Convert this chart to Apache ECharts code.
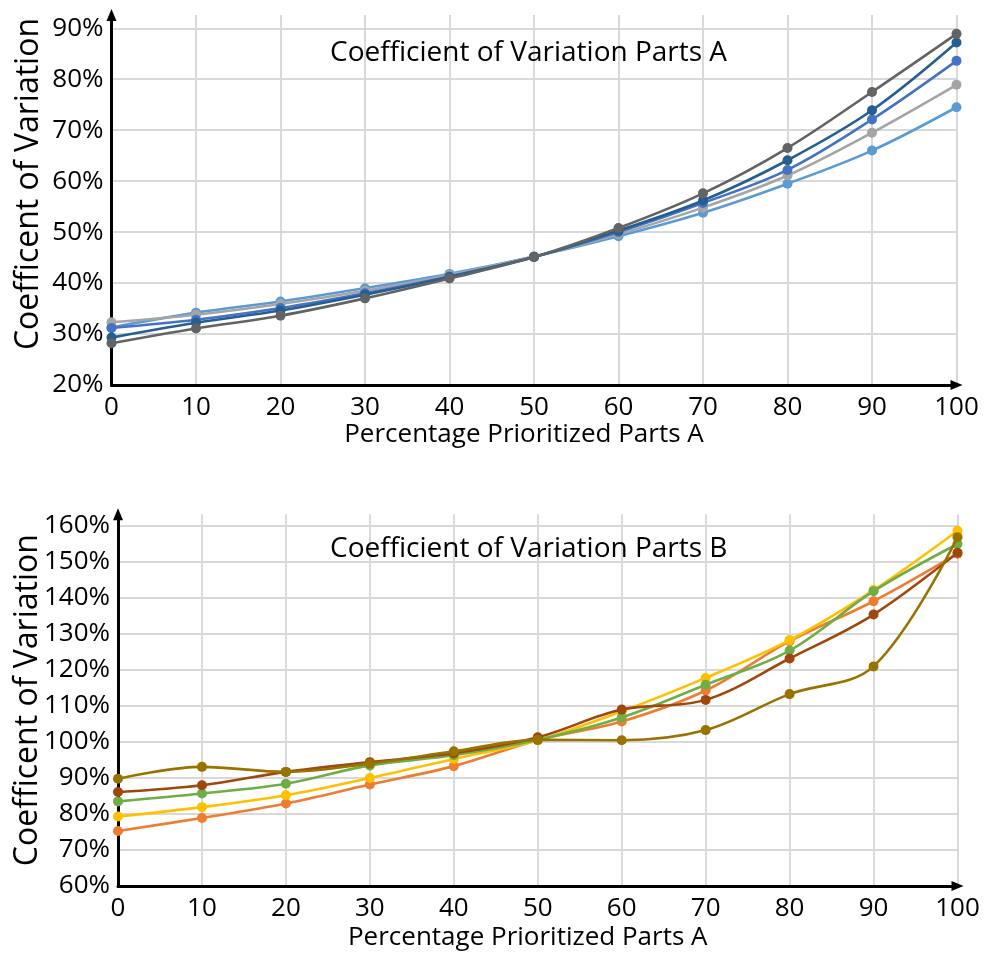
<!DOCTYPE html>
<html>
<head>
<meta charset="utf-8">
<script src="https://cdn.jsdelivr.net/npm/echarts@6/dist/echarts.min.js"></script>
<style>
  html, body { margin: 0; padding: 0; background: #ffffff; }
  #chart { width: 994px; height: 956px; }
</style>
</head>
<body>
<div id="chart"></div>
<script>
// Share of prioritized parts (x) for both panels
const prioritizedPct = [0, 10, 20, 30, 40, 50, 60, 70, 80, 90, 100];

// Parts A: coefficient of variation (%) for five scenarios
const partsA1 = [31.3, 34.2, 36.4, 39.0, 41.8, 45.2, 49.2, 53.8, 59.5, 66.0, 74.5];
const partsA2 = [32.3, 33.8, 35.9, 38.5, 41.6, 45.2, 49.6, 54.8, 61.1, 69.5, 78.9];
const partsA3 = [31.2, 32.8, 35.1, 38.0, 41.3, 45.1, 50.0, 55.7, 62.2, 72.1, 83.6];
const partsA4 = [29.3, 32.2, 34.6, 37.7, 41.2, 45.1, 50.3, 56.2, 64.1, 73.9, 87.2];
const partsA5 = [28.2, 31.1, 33.6, 37.0, 40.9, 45.1, 50.8, 57.6, 66.5, 77.5, 88.9];

// Parts B: coefficient of variation (%) for five scenarios
const partsB1 = [75.3, 78.9, 82.9, 88.2, 93.3, 100.5, 105.7, 114.3, 128.0, 139.1, 152.3];
const partsB2 = [79.3, 81.9, 85.2, 90.0, 95.3, 100.5, 108.5, 117.8, 128.3, 142.2, 158.7];
const partsB3 = [83.5, 85.7, 88.4, 93.5, 96.3, 100.6, 106.8, 115.9, 125.4, 141.9, 155.0];
const partsB4 = [86.1, 88.0, 91.7, 94.4, 96.9, 101.3, 109.0, 111.7, 123.2, 135.4, 152.6];
const partsB5 = [89.8, 93.1, 91.7, 94.0, 97.4, 100.6, 100.5, 103.3, 113.3, 121.0, 156.9];

// Axis ticks
const yTicksA = { min: 20, top: 90, step: 10 };
const yTicksB = { min: 60, top: 160, step: 10 };
const xTicks = { min: 0, max: 100, step: 10 };

const seriesA = [partsA1, partsA2, partsA3, partsA4, partsA5];
const seriesB = [partsB1, partsB2, partsB3, partsB4, partsB5];
const colorsA = ['#5B9BD5', '#A5A5A5', '#4472C4', '#255E91', '#636363'];
const colorsB = ['#ED7D31', '#FFC000', '#70AD47', '#9E480E', '#997300'];

const FONT = '"Open Sans", "Noto Sans", sans-serif';
const TEXT = '#000000';

function pairs(values) {
  return values.map((v, i) => [prioritizedPct[i], v]);
}

function makeX(gridIndex, gap, pad) {
  return {
    type: 'value', gridIndex: gridIndex,
    min: xTicks.min, max: xTicks.max, interval: xTicks.step,
    name: 'Percentage Prioritized Parts A', nameLocation: 'middle', nameGap: gap,
    nameTextStyle: { fontFamily: FONT, fontSize: 26, color: TEXT, padding: pad },
    axisLine: { show: true, symbol: ['none', 'triangle'], symbolSize: [10, 12],
      lineStyle: { color: '#000', width: 3 } },
    axisTick: { show: false },
    axisLabel: { fontFamily: FONT, fontSize: 26, color: TEXT, margin: 10 },
    splitLine: { show: true, lineStyle: { color: '#D9D9D9', width: 2 } }
  };
}

function makeY(gridIndex, ticks, extra, gap, pad) {
  return {
    type: 'value', gridIndex: gridIndex,
    min: ticks.min, max: ticks.top + extra, interval: ticks.step,
    name: 'Coefficent of Variation', nameLocation: 'middle', nameGap: gap,
    nameMoveOverlap: false,
    nameTextStyle: { fontFamily: FONT, fontSize: 32, color: TEXT, padding: pad },
    axisLine: { show: true, symbol: ['none', 'triangle'], symbolSize: [10, 12],
      lineStyle: { color: '#000', width: 3 } },
    axisTick: { show: false },
    axisLabel: { fontFamily: FONT, fontSize: 26, color: TEXT, margin: 8,
      formatter: '{value}%', showMaxLabel: false },
    splitLine: { show: true, showMaxLine: false, lineStyle: { color: '#D9D9D9', width: 2 } }
  };
}

function makeSeries(list, colors, axisIndex) {
  return list.map((vals, i) => ({
    type: 'line',
    xAxisIndex: axisIndex, yAxisIndex: axisIndex,
    data: pairs(vals),
    smooth: 0.35,
    symbol: 'circle', symbolSize: 10,
    lineStyle: { color: colors[i], width: 2.6 },
    itemStyle: { color: colors[i] },
    z: 2 + i
  }));
}

const chart = echarts.init(document.getElementById('chart'), null, { renderer: 'canvas' });
chart.setOption({
  animation: false,
  backgroundColor: '#ffffff',
  title: [
    { text: 'Coefficient of Variation Parts A', left: 330, top: 39, padding: 0,
      textStyle: { fontFamily: FONT, fontSize: 28, fontWeight: 'normal', color: TEXT } },
    { text: 'Coefficient of Variation Parts B', left: 330, top: 535, padding: 0,
      textStyle: { fontFamily: FONT, fontSize: 28, fontWeight: 'normal', color: TEXT } }
  ],
  grid: [
    { left: 111.5, top: 15, width: 845, height: 370, containLabel: false, outerBoundsMode: 'none' },
    { left: 118, top: 514.3, width: 839.5, height: 371.7, containLabel: false, outerBoundsMode: 'none' }
  ],
  xAxis: [makeX(0, 33, [0, 20, 0, 0]), makeX(1, 39, [0, 20, 0, 0])],
  yAxis: [
    makeY(0, yTicksA, 2.6, 67, [0, 0, 0, 32]),
    makeY(1, yTicksB, 3.25, 74, [0, 0, 0, 0])
  ],
  series: makeSeries(seriesA, colorsA, 0).concat(makeSeries(seriesB, colorsB, 1))
});
</script>
</body>
</html>
